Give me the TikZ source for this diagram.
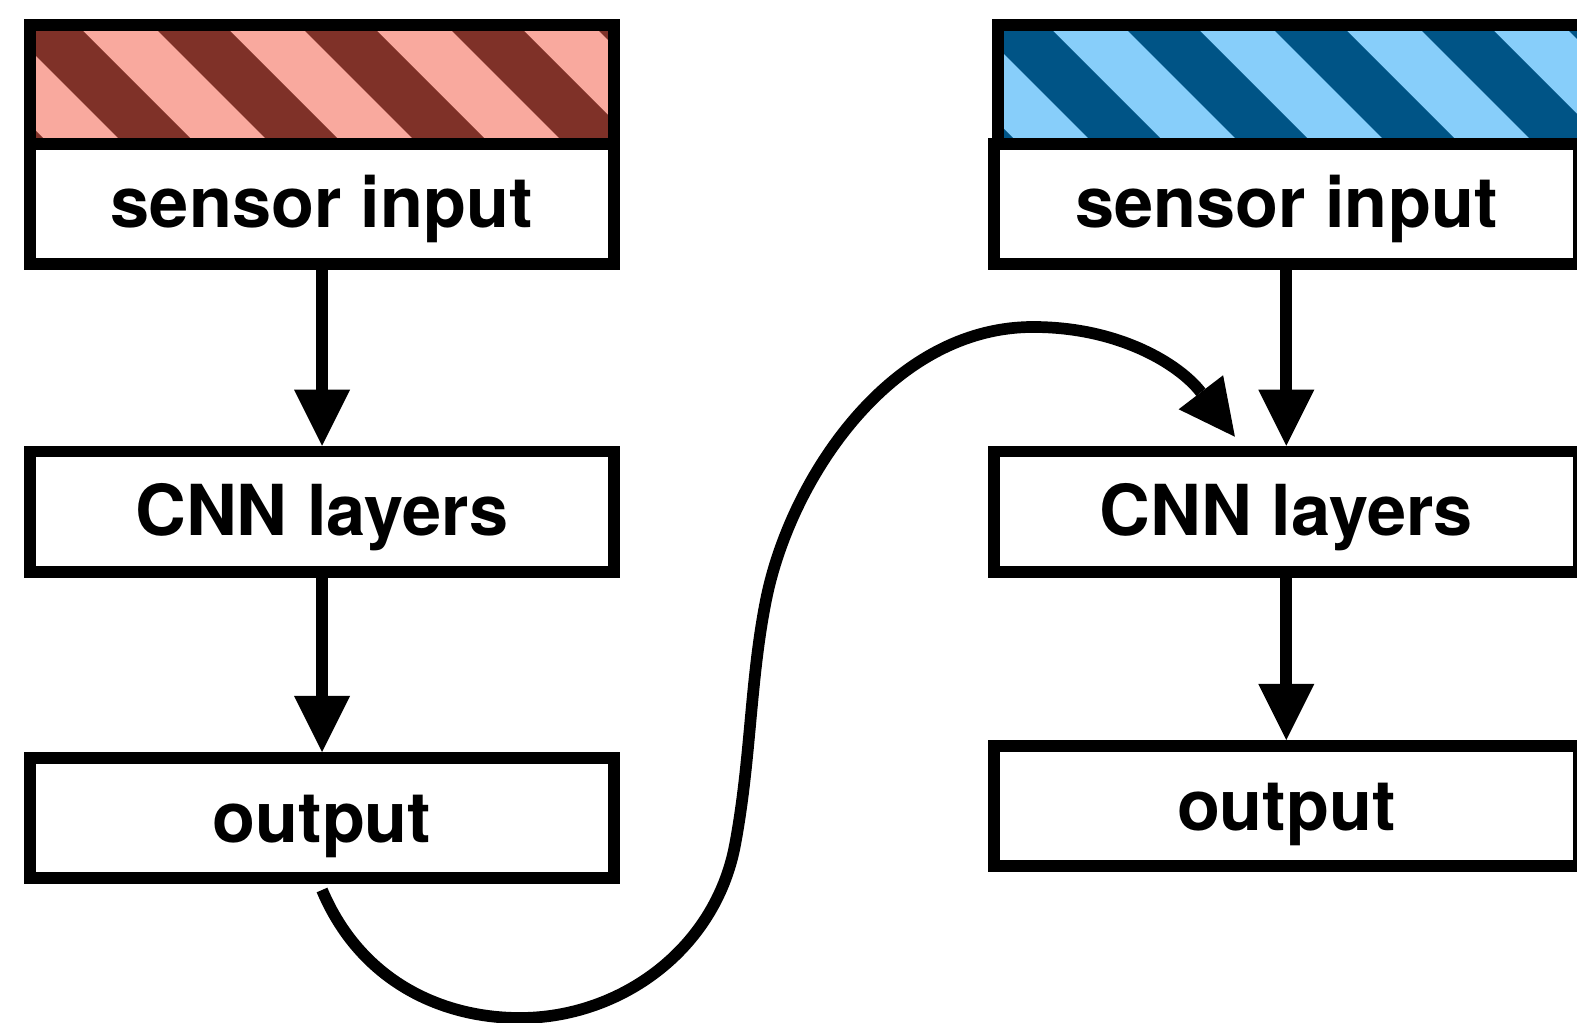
\documentclass[tikz,border=0pt]{standalone}
\usepackage{fontspec}
\setmainfont{TeX Gyre Heros}
\usetikzlibrary{arrows.meta}

\definecolor{ink}{RGB}{0,0,0}
\definecolor{redlight}{HTML}{F9A99E}
\definecolor{reddark}{HTML}{7F3128}
\definecolor{bluelight}{HTML}{87CEFA}
\definecolor{bluedark}{HTML}{005486}

\begin{document}
\begin{tikzpicture}[
  box/.style={draw=ink, line width=0.117cm, fill=white, minimum width=5.843cm, minimum height=1.203cm,
    inner sep=0pt, text height=0.62cm, text depth=0.14cm, font=\fontsize{20pt}{24pt}\selectfont\bfseries},
  bar/.style={draw=ink, line width=0.117cm, minimum width=5.843cm, minimum height=1.19cm, inner sep=0pt},
  arr/.style={draw=ink, line width=0.117cm, -{Triangle[length=0.56cm, width=0.56cm, line width=0pt, fill=ink]}}
]
\useasboundingbox (0,0) rectangle (15.77,-10.23);

% striped bars (path picture works around the node centre)
\node[bar, fill=redlight, path picture={
  \foreach \k in {-1,...,4}
    \draw[reddark, line width=0.509cm] ({(16+147*\k)/100-2.3735-1.5},1.5) -- ++(3,-3);
}] (bar1) at (3.22,-0.8465) {};
\node[bar, fill=bluelight, path picture={
  \foreach \k in {5,...,10}
    \draw[bluedark, line width=0.509cm] ({(104+147*\k)/100-12.0565-1.5},1.5) -- ++(3,-3);
}] (bar2) at (12.903,-0.8465) {};

\node[box] (in1) at (3.22,-2.04) {sensor input};
\node[box] (cnn1) at (3.22,-5.1175) {CNN layers};
\node[box] (out1) at (3.22,-8.18) {output};

\node[box] (in2) at (12.863,-2.04) {sensor input};
\node[box] (cnn2) at (12.863,-5.1175) {CNN layers};
\node[box] (out2) at (12.863,-8.06) {output};

\draw[arr] (in1) -- (cnn1);
\draw[arr] (cnn1) -- (out1);
\draw[arr] (in2) -- (cnn2);
\draw[arr] (cnn2) -- (out2);

% output of the first net goes into the second one
\coordinate (tip) at ([shift={(-0.514,0.09)}]cnn2.north);
\draw[arr] ([yshift=-0.06cm]out1.south) .. controls (3.60,-9.80) and (4.40,-10.18) .. (5.20,-10.18)
  .. controls (6.20,-10.18) and (7.15,-9.50) .. (7.35,-8.45)
  .. controls (7.51,-7.60) and (7.50,-6.80) .. (7.66,-6.00)
  .. controls (7.90,-4.80) and (8.90,-3.27) .. (10.33,-3.27)
  .. controls (11.20,-3.27) and (11.80,-3.65) .. (tip);
\end{tikzpicture}
\end{document}
